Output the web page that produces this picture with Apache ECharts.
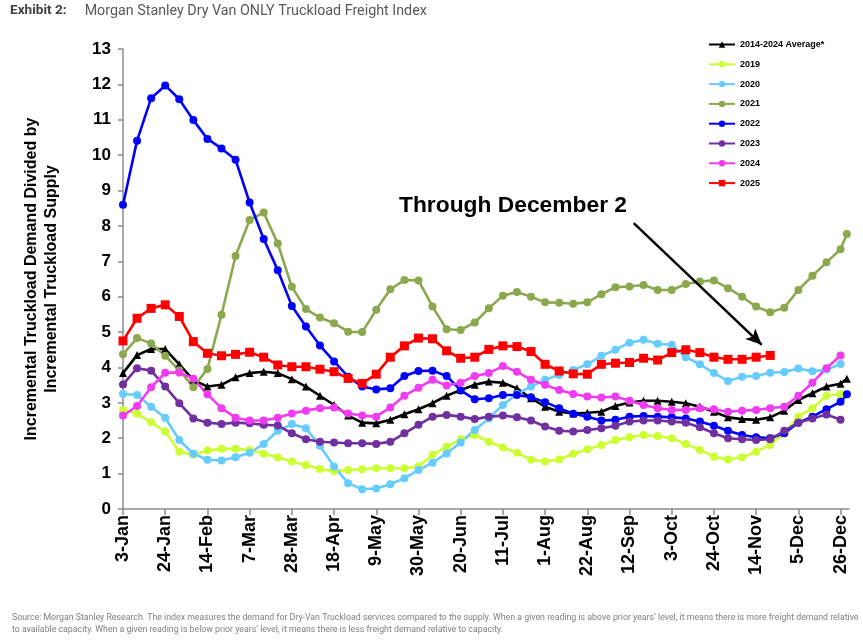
<!DOCTYPE html>
<html lang="en">
<head>
    <meta charset="UTF-8">
    <title>Morgan Stanley Dry Van ONLY Truckload Freight Index</title>
    <script src="https://cdn.jsdelivr.net/npm/echarts@6/dist/echarts.min.js"></script>
    <style>
        html, body { margin: 0; padding: 0; background: #fff; }
        #main { width: 863px; height: 644px; }
    </style>
</head>
<body>
<div id="main"></div>
<script>
    // tick labels every 3 weeks, starting at 3-Jan
    var tickLabels = ['3-Jan', '24-Jan', '14-Feb', '7-Mar', '28-Mar', '18-Apr', '9-May', '30-May', '20-Jun',
        '11-Jul', '1-Aug', '22-Aug', '12-Sep', '3-Oct', '24-Oct', '14-Nov', '5-Dec', '26-Dec'];
    var tickWeeks = [0, 3, 6, 9, 12, 15, 18, 21, 24, 27, 30, 33, 36, 39, 42, 45, 48, 51];
    // week positions: 52 weekly readings, plus one short partial week at the year end
    var weekPos = [0, 1, 2, 3, 4, 5, 6, 7, 8, 9, 10, 11, 12, 13, 14, 15, 16, 17, 18, 19, 20, 21, 22, 23, 24, 25,
        26, 27, 28, 29, 30, 31, 32, 33, 34, 35, 36, 37, 38, 39, 40, 41, 42, 43, 44, 45, 46, 47, 48, 49, 50, 51, 51.45];

    var avg1424 = [3.84, 4.35, 4.52, 4.52, 4.09, 3.65, 3.46, 3.51, 3.72, 3.84, 3.88, 3.84, 3.67, 3.46, 3.20, 2.94, 2.64, 2.44,
        2.42, 2.52, 2.68, 2.82, 2.99, 3.20, 3.36, 3.51, 3.60, 3.57, 3.41, 3.13, 2.89, 2.75, 2.70, 2.72, 2.75,
        2.91, 3.01, 3.06, 3.06, 3.03, 2.99, 2.89, 2.75, 2.59, 2.54, 2.52, 2.59, 2.78, 3.08, 3.27, 3.46, 3.54, 3.68];
    var y2019 = [2.80, 2.69, 2.45, 2.19, 1.62, 1.53, 1.65, 1.70, 1.70, 1.67, 1.56, 1.46, 1.34, 1.24, 1.13, 1.07, 1.10, 1.12,
        1.15, 1.15, 1.15, 1.20, 1.53, 1.76, 1.97, 2.09, 1.90, 1.74, 1.59, 1.39, 1.34, 1.40, 1.56, 1.69, 1.81,
        1.95, 2.03, 2.09, 2.06, 2.00, 1.84, 1.67, 1.48, 1.40, 1.46, 1.62, 1.81, 2.14, 2.61, 2.85, 3.20, 3.25];
    var y2020 = [3.25, 3.22, 2.89, 2.58, 1.95, 1.56, 1.39, 1.37, 1.46, 1.59, 1.84, 2.21, 2.40, 2.28, 1.79, 1.20, 0.73, 0.56,
        0.58, 0.70, 0.87, 1.10, 1.31, 1.57, 1.88, 2.23, 2.56, 2.94, 3.25, 3.46, 3.65, 3.79, 3.93, 4.09, 4.33,
        4.50, 4.70, 4.78, 4.67, 4.64, 4.29, 4.09, 3.84, 3.62, 3.74, 3.76, 3.85, 3.87, 3.97, 3.89, 3.94, 4.10];
    var y2021 = [4.37, 4.83, 4.68, 4.33, 3.92, 3.44, 3.96, 5.49, 7.15, 8.17, 8.38, 7.50, 6.28, 5.65, 5.41, 5.25, 5.01, 5.00,
        5.63, 6.21, 6.47, 6.46, 5.72, 5.08, 5.06, 5.27, 5.67, 6.03, 6.13, 6.00, 5.84, 5.83, 5.80, 5.84, 6.07,
        6.27, 6.29, 6.33, 6.19, 6.19, 6.36, 6.43, 6.46, 6.24, 6.00, 5.72, 5.56, 5.69, 6.19, 6.59, 6.97, 7.34, 7.77];
    var y2022 = [8.60, 10.41, 11.61, 11.97, 11.58, 10.99, 10.46, 10.19, 9.87, 8.66, 7.63, 6.75, 5.74, 5.16, 4.62, 4.17, 3.74, 3.46,
        3.38, 3.41, 3.76, 3.90, 3.91, 3.76, 3.35, 3.10, 3.13, 3.22, 3.22, 3.16, 3.02, 2.85, 2.69, 2.61, 2.50,
        2.52, 2.61, 2.63, 2.61, 2.59, 2.56, 2.47, 2.35, 2.21, 2.09, 2.03, 2.00, 2.14, 2.44, 2.61, 2.82, 3.03, 3.24];
    var y2023 = [3.52, 3.98, 3.91, 3.46, 2.99, 2.56, 2.44, 2.40, 2.44, 2.42, 2.38, 2.36, 2.14, 1.97, 1.90, 1.88, 1.86, 1.86,
        1.84, 1.90, 2.14, 2.38, 2.61, 2.66, 2.61, 2.54, 2.61, 2.64, 2.59, 2.50, 2.33, 2.21, 2.19, 2.23, 2.28,
        2.35, 2.47, 2.50, 2.50, 2.47, 2.44, 2.31, 2.14, 2.00, 1.97, 1.95, 1.97, 2.21, 2.44, 2.56, 2.67, 2.52];
    var y2024 = [2.64, 2.91, 3.44, 3.85, 3.86, 3.68, 3.24, 2.85, 2.58, 2.50, 2.50, 2.58, 2.70, 2.78, 2.85, 2.87, 2.70, 2.64,
        2.61, 2.87, 3.20, 3.43, 3.65, 3.49, 3.57, 3.76, 3.84, 4.04, 3.88, 3.65, 3.51, 3.36, 3.25, 3.18, 3.15,
        3.18, 3.06, 2.94, 2.85, 2.80, 2.80, 2.85, 2.82, 2.75, 2.78, 2.80, 2.85, 2.89, 3.20, 3.57, 3.98, 4.34];
    var y2025 = [4.75, 5.39, 5.67, 5.77, 5.44, 4.73, 4.40, 4.33, 4.37, 4.43, 4.29, 4.07, 4.02, 4.02, 3.95, 3.88, 3.69, 3.55,
        3.81, 4.29, 4.61, 4.83, 4.81, 4.47, 4.26, 4.29, 4.51, 4.61, 4.59, 4.45, 4.09, 3.90, 3.82, 3.81, 4.09,
        4.12, 4.14, 4.26, 4.21, 4.42, 4.50, 4.42, 4.29, 4.23, 4.23, 4.29, 4.34];

    // arrow of the annotation, in chart units (week, index)
    var arrowFrom = [36.3, 8.08];
    var arrowTo = [45.4, 4.64];

    function pairs(values) {
        return values.map(function (v, i) {
            return [weekPos[i], v];
        });
    }

    function mkSeries(name, values, color, symbol, size) {
        return {
            name: name,
            type: 'line',
            data: pairs(values),
            symbol: symbol,
            symbolSize: size,
            showSymbol: true,
            animation: false,
            lineStyle: {color: color, width: 2.6},
            itemStyle: {color: color}
        };
    }

    var chart = echarts.init(document.getElementById('main'));
    var fontBold = 'Liberation Sans, Arial, sans-serif';

    var red = mkSeries('2025', y2025, '#FF0000', 'rect', 9);
    red.markLine = {
        silent: true,
        animation: false,
        symbol: ['none', 'arrow'],
        symbolSize: [11, 16],
        label: {show: false},
        lineStyle: {color: '#000', width: 2.5, type: 'solid'},
        data: [[{coord: arrowFrom}, {coord: arrowTo}]]
    };

    var option = {
        animation: false,
        grid: {left: 123, right: 14, top: 49, bottom: 135, containLabel: false},
        legend: {
            orient: 'vertical',
            left: 708,
            top: 40,
            padding: 0,
            itemWidth: 26,
            itemHeight: 8,
            itemGap: 10.8,
            textStyle: {fontFamily: fontBold, fontWeight: 'bold', fontSize: 9, color: '#000'},
            data: ['2014-2024 Average*', '2019', '2020', '2021', '2022', '2023', '2024', '2025']
        },
        xAxis: {
            type: 'value',
            min: 0,
            max: 51.6,
            splitLine: {show: false},
            axisLine: {lineStyle: {color: '#8c8c8c', width: 1.5}},
            axisTick: {
                show: true, length: 6, customValues: tickWeeks,
                lineStyle: {color: '#8c8c8c', width: 1.5}
            },
            axisLabel: {
                customValues: tickWeeks,
                rotate: 90,
                margin: 6,
                fontFamily: fontBold,
                fontWeight: 'bold',
                fontSize: 18,
                color: '#000',
                formatter: function (v) {
                    var k = tickWeeks.indexOf(v);
                    return k >= 0 ? tickLabels[k] : '';
                }
            }
        },
        yAxis: {
            type: 'value',
            min: 0,
            max: 13,
            interval: 1,
            splitLine: {show: false},
            axisLine: {show: true, lineStyle: {color: '#8c8c8c', width: 1.5}},
            axisTick: {show: true, length: 5, lineStyle: {color: '#8c8c8c', width: 1.5}},
            axisLabel: {
                margin: 12,
                fontFamily: fontBold,
                fontWeight: 'bold',
                fontSize: 17,
                color: '#000'
            },
            name: 'Incremental Truckload Demand Divided by\nIncremental Truckload Supply',
            nameLocation: 'middle',
            nameGap: 61,
            nameTextStyle: {
                fontFamily: fontBold,
                fontWeight: 'bold',
                fontSize: 16,
                lineHeight: 20,
                color: '#000'
            }
        },
        graphic: [
            {
                type: 'text',
                left: 10,
                top: 4,
                style: {
                    text: '{a|Exhibit 2:}{b|Morgan Stanley Dry Van ONLY Truckload Freight Index}',
                    rich: {
                        a: {fontFamily: 'Roboto', fontWeight: 'bold', fontSize: 13.6, fill: '#404040'},
                        b: {fontFamily: 'Roboto', fontSize: 14.3, fill: '#595959', padding: [0, 0, 0, 18]}
                    }
                }
            },
            {
                type: 'text',
                left: 399,
                top: 194,
                style: {
                    text: 'Through December 2',
                    fontFamily: fontBold,
                    fontWeight: 'bold',
                    fontSize: 22.8,
                    fill: '#000'
                }
            },
            {
                type: 'text',
                left: 12,
                top: 612,
                style: {
                    text: 'Source: Morgan Stanley Research. The index measures the demand for Dry-Van Truckload services compared to the supply. When a given reading is above prior years\u2019 level, it means there is more freight demand relative\nto available capacity. When a given reading is below prior years\u2019 level, it means there is less freight demand relative to capacity.',
                    fontFamily: 'Roboto',
                    fontSize: 8.77,
                    lineHeight: 12,
                    fill: '#7f7f7f'
                }
            }
        ],
        series: [
            mkSeries('2014-2024 Average*', avg1424, '#000000', 'triangle', 8),
            mkSeries('2019', y2019, '#CCFF33', 'circle', 8),
            mkSeries('2020', y2020, '#66CCFF', 'circle', 8),
            mkSeries('2021', y2021, '#8CA84E', 'circle', 8),
            mkSeries('2022', y2022, '#0000FF', 'circle', 8),
            mkSeries('2023', y2023, '#7030A0', 'circle', 8),
            mkSeries('2024', y2024, '#F03CF0', 'circle', 8),
            red
        ]
    };
    chart.setOption(option);
</script>
</body>
</html>
